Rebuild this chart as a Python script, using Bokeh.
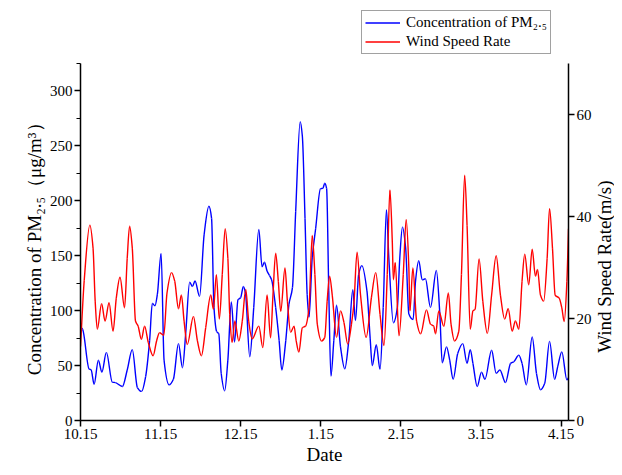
import numpy as np
from bokeh.plotting import figure
from bokeh.layouts import column, row
from bokeh.models import (Range1d, LinearAxis, FixedTicker, SingleIntervalTicker,
                          Legend, LegendItem, ColumnDataSource, Label)
from bokeh.embed import file_html
from bokeh.resources import INLINE

# ---- data (day offset from 10.15) ----
tick_days = [0, 30, 60, 90, 120, 150, 180]
tick_labels = ["10.15", "11.15", "12.15", "1.15", "2.15", "3.15", "4.15"]

pm_day = [0.0, 0.8, 3.2, 4.0, 5.1, 6.7, 8.0, 9.7, 11.9, 13.1, 15.7, 17.5, 19.4, 21.3, 22.9,
          24.4, 25.9, 26.9, 27.9, 28.8, 30.2, 31.3, 33.2, 34.8, 36.7, 38.2, 39.4, 40.9, 41.9,
          42.9, 44.6, 46.3, 48.1, 49.1, 50.0, 51.0, 51.8, 52.7, 54.0, 55.2, 56.5, 57.7, 59.0,
          60.0, 61.0, 61.8, 63.4, 64.9, 66.8, 68.0, 68.9, 69.9, 70.8, 71.6, 73.1, 74.4, 75.4,
          76.9, 78.1, 79.4, 80.6, 82.3, 83.1, 84.1, 84.9, 85.6, 86.8, 88.1, 89.9, 90.8, 91.5,
          92.2, 93.0, 93.8, 94.9, 95.9, 97.4, 99.0, 100.5, 102.0, 103.0, 104.2, 105.4, 107.3,
          108.5, 109.3, 110.8, 112.2, 113.4, 114.6, 115.5, 117.2, 118.7, 119.6, 120.6, 121.8,
          123.0, 124.6, 125.5, 126.7, 128.0, 129.2, 131.1, 133.3, 134.6, 135.5, 137.1, 138.3,
          139.6, 141.3, 143.2, 144.8, 146.0, 147.0, 148.6, 150.2, 151.5, 154.0, 155.7, 157.1,
          159.2, 161.1, 162.3, 164.2, 165.4, 167.0, 169.2, 170.8, 172.3, 173.9, 175.7, 177.6,
          178.8, 180.3, 182.2, 182.8]
pm_val = [85, 83, 47, 46, 33, 55, 44, 62, 35, 34.5, 31, 46, 64.5, 30, 26.5,
          40, 73, 106.5, 104.5, 115, 152, 55, 32.4, 37.5, 70, 48, 79, 126, 122,
          127, 113, 169, 195, 184, 103, 81, 79, 43, 27, 55, 108, 71.5, 110,
          112, 122, 116, 58, 103, 174, 140, 144, 136, 132, 128, 103, 73, 46,
          73, 106, 121, 190, 272, 259, 184, 115, 94, 148, 175, 211, 211.5, 216,
          211, 118, 40.5, 73, 105, 67, 47, 73, 119, 91, 133, 141, 118,
          75, 50, 69, 46.5, 103, 192, 148, 89, 103, 148, 176, 157,
          97, 92, 127, 145.5, 128, 129, 103, 136.5, 97, 52.5, 67, 55,
          37.5, 61, 70, 52, 64.5, 52, 31, 44, 37.5, 64, 43, 46,
          34.5, 52, 53.5, 59.5, 52, 32.5, 76, 43, 28, 34, 72, 37.5,
          49.5, 62.5, 37, 39]

wind_day = [0.0, 1.4, 3.5, 4.7, 5.5, 6.3, 7.9, 9.2, 10.7, 12.2, 13.4, 14.8, 16.5, 17.5, 18.4,
            19.4, 20.6, 21.6, 22.8, 24.0, 25.4, 27.2, 28.5, 29.6, 31.2, 32.4, 34.1, 35.3, 36.7,
            37.8, 38.8, 40.0, 42.3, 43.8, 45.3, 46.9, 48.8, 49.8, 50.9, 52.0, 53.1, 54.2, 55.2,
            55.9, 56.8, 57.8, 59.3, 60.6, 61.9, 63.0, 64.3, 66.8, 68.3, 69.9, 71.2, 72.1, 73.1,
            74.1, 75.0, 76.6, 77.5, 78.7, 80.0, 80.8, 81.8, 83.1, 84.3, 85.6, 86.8, 87.8, 88.7,
            90.3, 91.5, 92.4, 93.3, 94.3, 95.9, 97.4, 98.7, 100.1, 101.5, 102.4, 103.6, 104.9,
            107.0, 109.0, 110.6, 112.2, 113.7, 114.9, 115.9, 116.8, 117.2, 117.9, 119.3, 120.9,
            122.0, 123.0, 123.4, 124.5, 125.9, 127.4, 129.6, 131.1, 132.3, 133.0, 134.2, 136.1,
            137.8, 138.8, 140.1, 141.7, 142.7, 143.9, 144.8, 146.0, 147.0, 147.8, 149.3, 150.7,
            152.4, 154.0, 155.7, 157.3, 158.9, 160.2, 161.7, 162.9, 164.2, 165.4, 166.4, 167.9,
            169.2, 170.4, 171.2, 172.3, 173.5, 174.8, 175.7, 176.8, 177.8, 179.3, 180.3, 181.2,
            182.2, 182.8]
wind_val = [14.5, 27.5, 38.3, 33.8, 23.4, 17.9, 22.9, 19.5, 23.1, 17.5, 24, 28.1, 22.1, 31.8, 38.1,
            33.8, 19.5, 18.5, 15.9, 18.5, 15.3, 12.7, 15.6, 17.2, 16.7, 25, 29, 27.3, 21.9,
            24.6, 19.5, 14.9, 20.4, 15.6, 12.7, 18.2, 24.6, 21.8, 28.6, 19.9, 28.6, 37.6, 31.8,
            20.8, 15.3, 19.5, 15.6, 19.5, 25.7, 19.5, 16, 18.5, 14.3, 24.6, 16.2, 24.6, 32.8,
            27.3, 21.4, 29.9, 23.4, 17.3, 18.5, 15.6, 13.4, 18.2, 18.5, 22.1, 36.3, 28.6, 18.9,
            15.6, 16.3, 23.4, 28.3, 24.6, 16.3, 21.5, 19.2, 15.0, 18.9, 22.8, 33.0, 24.6,
            16.3, 24.2, 29, 20.8, 14.7, 28.6, 45.2, 35, 27.6, 31, 16.6, 28.6,
            39.4, 29.9, 21.5, 29.9, 19.5, 17, 21.7, 18.9, 18.5, 17, 21.5, 18.5,
            25, 18.9, 15.6, 17.5, 28.6, 48.1, 38.3, 17.9, 21.5, 21.8, 31.7, 23.4,
            17.1, 24.6, 32.3, 24.6, 19.9, 21.9, 17.5, 19.5, 17.9, 27.3, 32.6, 26.6,
            33.6, 28.3, 29.6, 24.6, 23.4, 31.8, 41.6, 33.8, 24.6, 24.0, 22.1, 19.4,
            27.3, 37.6]

PM_COLOR = "#0000FF"
WIND_COLOR = "#FF0000"
FONT = "Liberation Serif"
MAIN_W = 594


def smooth_segments(xs, ys):
    """Monotone cubic (PCHIP) curve through the points, as Bezier segments."""
    x = np.asarray(xs, float)
    y = np.asarray(ys, float)
    h = np.diff(x)
    d = np.diff(y) / h
    m = np.zeros_like(y)
    for i in range(1, len(y) - 1):
        if d[i - 1] * d[i] > 0:
            w1 = 2 * h[i] + h[i - 1]
            w2 = h[i] + 2 * h[i - 1]
            m[i] = (w1 + w2) / (w1 / d[i - 1] + w2 / d[i])
    m[0] = d[0]
    m[-1] = d[-1]
    return ColumnDataSource(dict(
        x0=x[:-1], y0=y[:-1], x1=x[1:], y1=y[1:],
        cx0=x[:-1] + h / 3, cy0=y[:-1] + m[:-1] * h / 3,
        cx1=x[1:] - h / 3, cy1=y[1:] - m[1:] * h / 3))


# ---- legend strip above the chart (its frame is aligned with the chart's) ----
top = figure(width=MAIN_W, height=55, x_range=Range1d(0, 1), y_range=Range1d(0, 1),
             output_backend="svg", toolbar_location=None,
             x_axis_location=None, y_axis_location=None, min_border=0)
top.grid.visible = False
top.outline_line_color = None
# legend keys only: one point outside the visible range, never shown
k_pm = top.line(x=[0.5], y=[-5.0], line_color=PM_COLOR, line_width=1.4)
k_wind = top.line(x=[0.5], y=[-5.0], line_color=WIND_COLOR, line_width=1.4)
legend = Legend(items=[LegendItem(label="Concentration of PM\u2082.\u2085", renderers=[k_pm]),
                       LegendItem(label="Wind Speed Rate", renderers=[k_wind])],
                location=(281, 1), orientation="vertical",
                label_text_font=FONT, label_text_font_size="15px", label_text_color="black",
                glyph_width=35, glyph_height=17, label_height=17, label_standoff=6,
                spacing=2, padding=3, margin=0,
                border_line_color="#444444", border_line_width=1,
                background_fill_color="white", background_fill_alpha=1.0)
top.add_layout(legend)

# ---- main chart ----
p = figure(width=MAIN_W, height=412, x_range=Range1d(0, 182.8), y_range=Range1d(0, 325),
           output_backend="svg", toolbar_location=None,
           min_border_left=80, min_border_right=24, min_border_top=8, min_border_bottom=10)
p.extra_y_ranges = {"wind": Range1d(0, 70)}
p.grid.visible = False
p.outline_line_color = None
p.background_fill_color = "white"

p.bezier(x0="x0", y0="y0", x1="x1", y1="y1", cx0="cx0", cy0="cy0", cx1="cx1", cy1="cy1",
         source=smooth_segments(pm_day, pm_val), line_color=PM_COLOR, line_width=1.4)
p.bezier(x0="x0", y0="y0", x1="x1", y1="y1", cx0="cx0", cy0="cy0", cx1="cx1", cy1="cy1",
         source=smooth_segments(wind_day, wind_val), line_color=WIND_COLOR, line_width=1.4,
         y_range_name="wind")

right_axis = LinearAxis(y_range_name="wind",
                        ticker=SingleIntervalTicker(interval=20, num_minor_ticks=0))
p.add_layout(right_axis, "right")

p.xaxis.ticker = FixedTicker(ticks=tick_days)
p.xaxis.major_label_overrides = {d: s for d, s in zip(tick_days, tick_labels)}
p.xaxis.axis_label = "Date"

p.yaxis[0].ticker = SingleIntervalTicker(interval=50, num_minor_ticks=2)
p.yaxis[0].axis_label = "Concentration of  PM\u2082.\u2085\uff08\u03bcg/m\u00b3\uff09"

for ax in [p.xaxis[0], p.yaxis[0], right_axis]:
    ax.axis_line_width = 1.5
    ax.axis_line_color = "black"
    ax.major_tick_line_width = 1.5
    ax.major_tick_line_color = "black"
    ax.major_tick_out = 6
    ax.major_tick_in = 0
    ax.minor_tick_out = 4
    ax.minor_tick_in = 0
    ax.minor_tick_line_width = 1.2
    ax.minor_tick_line_color = "black"
    ax.major_label_text_font = FONT
    ax.major_label_text_font_size = "15px"
    ax.major_label_text_color = "black"
    ax.major_label_standoff = 2
    ax.axis_label_text_font = FONT
    ax.axis_label_text_font_size = "19px"
    ax.axis_label_text_font_style = "normal"
    ax.axis_label_text_color = "black"
    ax.axis_label_standoff = 2
right_axis.minor_tick_line_color = None

# ---- right-hand axis title, reading bottom to top ----
side = figure(width=20, height=467, x_range=Range1d(0, 1), y_range=Range1d(0, 1),
              output_backend="svg", toolbar_location=None,
              x_axis_location=None, y_axis_location=None, min_border=0)
side.grid.visible = False
side.outline_line_color = None
side.add_layout(Label(x=0.5, y=0.43, text="Wind Speed Rate(m/s)", angle=np.pi / 2,
                      text_align="center", text_baseline="middle",
                      text_font=FONT, text_font_size="19px", text_color="black"))

open("out.html", "w").write(file_html(row(column(top, p, spacing=0), side, spacing=0), INLINE))
